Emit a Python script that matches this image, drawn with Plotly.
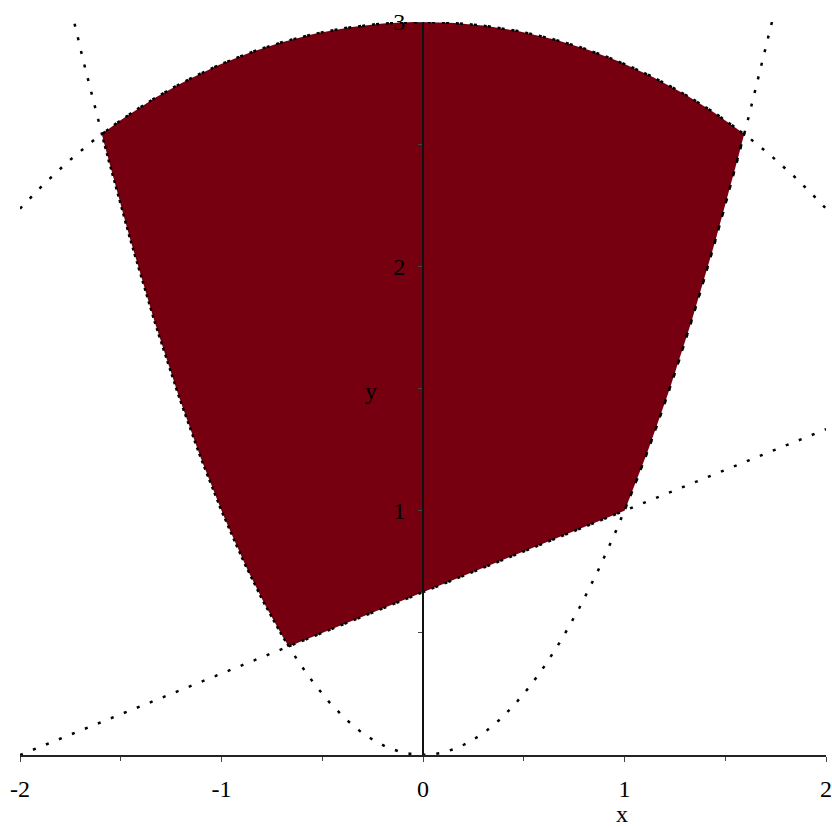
import numpy as np
import plotly.graph_objects as go

# Region: y >= x^2, y >= (x+2)/3, x^2 + y^2 <= 9
parabola_coef = [1.0, 0.0, 0.0]      # y = a x^2 + b x + c
line_coef = [1 / 3, 2 / 3]           # y = m x + k
circle_radius = 3.0
x_range = [-2, 2]
y_range = [0, 3]
x_ticks = [-2, -1, 0, 1, 2]
x_minor = [-1.5, -0.5, 0.5, 1.5]
y_ticks = [1, 2, 3]
y_minor = [0.5, 1.5, 2.5]

fill_color = "#770010"
font = "Liberation Serif"


def parab(x):
    a, b, c = parabola_coef
    return a * x ** 2 + b * x + c


def line(x):
    m, k = line_coef
    return m * x + k


# corners of the region
xl = (line_coef[0] - np.sqrt(line_coef[0] ** 2 + 4 * line_coef[1])) / 2
xr = (line_coef[0] + np.sqrt(line_coef[0] ** 2 + 4 * line_coef[1])) / 2
yc = (-1 + np.sqrt(1 + 4 * circle_radius ** 2)) / 2
xc = np.sqrt(yc)

seg_line = np.linspace(xl, xr, 40)
seg_rpar = np.linspace(xr, xc, 40)
ang = np.linspace(np.arctan2(yc, xc), np.arctan2(yc, -xc), 120)
seg_lpar = np.linspace(-xc, xl, 60)

rx = np.concatenate([seg_line, seg_rpar, circle_radius * np.cos(ang), seg_lpar])
ry = np.concatenate([line(seg_line), parab(seg_rpar), circle_radius * np.sin(ang), parab(seg_lpar)])

xs = np.linspace(x_range[0], x_range[1], 400)
circ_x = np.linspace(x_range[0], x_range[1], 400)
circ_y = np.sqrt(np.clip(circle_radius ** 2 - circ_x ** 2, 0, None))

dots = "3px,11px"

fig = go.Figure()
fig.add_trace(go.Scatter(x=rx, y=ry, fill="toself", fillcolor=fill_color, mode="lines",
                         line=dict(color="black", width=2.5, dash=dots), hoverinfo="skip"))
fig.add_trace(go.Scatter(x=xs, y=parab(xs), mode="lines",
                         line=dict(color="black", width=2.5, dash=dots)))
fig.add_trace(go.Scatter(x=circ_x, y=circ_y, mode="lines",
                         line=dict(color="black", width=2.5, dash=dots)))
fig.add_trace(go.Scatter(x=xs, y=line(xs), mode="lines",
                         line=dict(color="black", width=2.5, dash=dots)))

fig.update_layout(
    width=832, height=828,
    margin=dict(l=20, r=6, t=22, b=73, autoexpand=False),
    plot_bgcolor="white", paper_bgcolor="white",
    showlegend=False,
    font=dict(family=font, size=24, color="black"),
    xaxis=dict(range=x_range, showgrid=False, zeroline=False, showline=True, automargin=False,
               linecolor="#222", linewidth=2, ticks="outside", ticklen=5, tickcolor="#444",
               tickvals=x_ticks, ticktext=[str(v) for v in x_ticks], ticklabelstandoff=6,
               minor=dict(tickvals=x_minor, ticks="outside", ticklen=4, tickcolor="#444")),
    yaxis=dict(range=y_range, showgrid=False, zeroline=False, showline=True, automargin=False,
               anchor="free", position=0.5,
               linecolor="#111", linewidth=2, ticks="outside", ticklen=4, tickcolor="#444",
               tickvals=y_ticks, ticktext=[str(v) for v in y_ticks], ticklabelstandoff=8,
               minor=dict(tickvals=y_minor, ticks="outside", ticklen=4, tickcolor="#444")),
    annotations=[
        dict(x=0.99, y=-0.0996, xref="x", yref="paper", yanchor="bottom", text="x",
             showarrow=False, borderpad=0, font=dict(family=font, size=24)),
        dict(x=-0.26, y=1.49, xref="x", yref="y", text="y", showarrow=False,
             font=dict(family=font, size=24)),
    ],
)

fig.write_html("out.html", config={"displayModeBar": False},
               post_script="document.body.style.margin='0';")
